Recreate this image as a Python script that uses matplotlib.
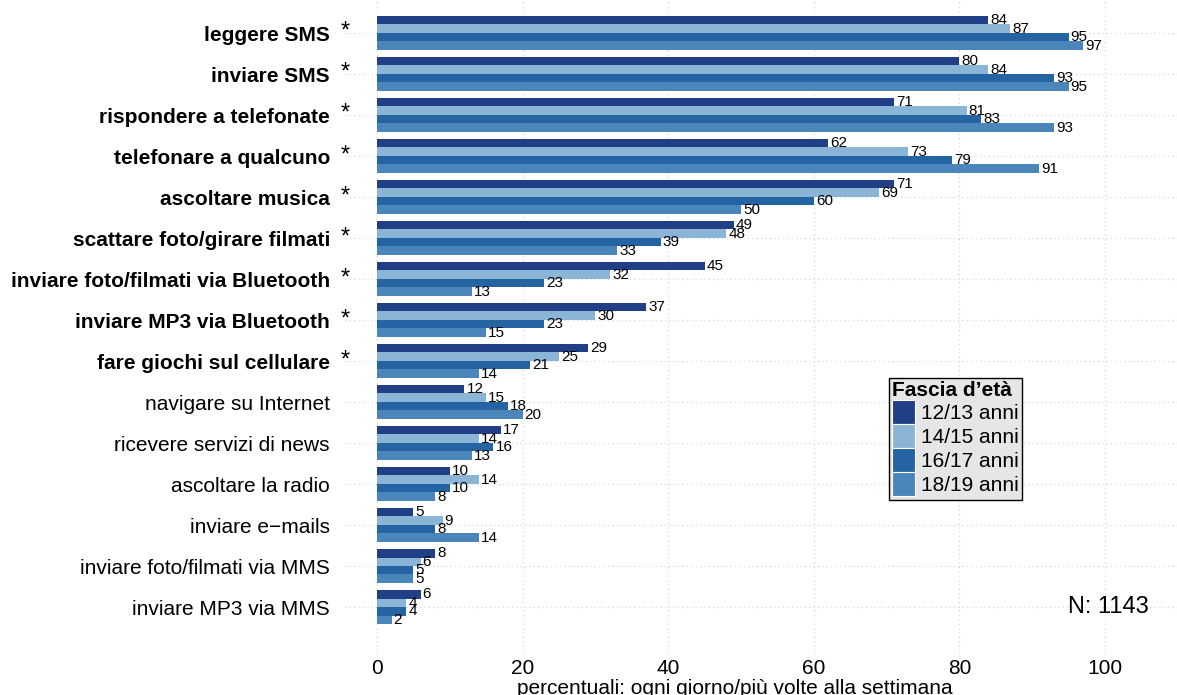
import matplotlib
matplotlib.use("Agg")
import matplotlib.pyplot as plt
import numpy as np
from matplotlib.patches import Patch
from matplotlib.transforms import blended_transform_factory, offset_copy

categories = [
    "leggere SMS", "inviare SMS", "rispondere a telefonate", "telefonare a qualcuno",
    "ascoltare musica", "scattare foto/girare filmati", "inviare foto/filmati via Bluetooth",
    "inviare MP3 via Bluetooth", "fare giochi sul cellulare", "navigare su Internet",
    "ricevere servizi di news", "ascoltare la radio", "inviare e\u2212mails",
    "inviare foto/filmati via MMS", "inviare MP3 via MMS",
]
significant = [True] * 9 + [False] * 6
series_names = ["12/13 anni", "14/15 anni", "16/17 anni", "18/19 anni"]
age_12_13 = [84, 80, 71, 62, 71, 49, 45, 37, 29, 12, 17, 10, 5, 8, 6]
age_14_15 = [87, 84, 81, 73, 69, 48, 32, 30, 25, 15, 14, 14, 9, 6, 4]
age_16_17 = [95, 93, 83, 79, 60, 39, 23, 23, 21, 18, 16, 10, 8, 5, 4]
age_18_19 = [97, 95, 93, 91, 50, 33, 13, 15, 14, 20, 13, 8, 14, 5, 2]
series = [age_12_13, age_14_15, age_16_17, age_18_19]
colors = ["#213f87", "#8bb5d6", "#2464a2", "#4a86ba"]
x_ticks = [0, 20, 40, 60, 80, 100]

plt.rcParams['font.family'] = ['Liberation Sans', 'DejaVu Sans']

fig = plt.figure(figsize=(11.77, 6.95), dpi=100)
ax = fig.add_axes([345 / 1177, 1 - 655 / 695, (1177 - 345) / 1177, 655 / 695])

n = len(categories)
y = np.arange(n)
bh = 0.207
for i, (vals, col) in enumerate(zip(series, colors)):
    ypos = y - 1.5 * bh + i * bh
    ax.barh(ypos, vals, height=bh, color=col, edgecolor='none', zorder=2)
    tr = offset_copy(ax.transData, fig=fig, x=2, y=0, units='dots')
    for yy, v in zip(ypos, vals):
        ax.text(v, yy, str(v), transform=tr, ha='left', va='center', fontsize=11, zorder=3)

ax.set_xlim(-4.4, 109.9)
ax.set_ylim(n - 1 + 1.17, -0.8)
for s in ax.spines.values():
    s.set_visible(False)
ax.set_xticks(x_ticks)
ax.set_xticklabels([str(t) for t in x_ticks], fontsize=15)
ax.tick_params(axis='x', length=0, pad=3)
ax.set_yticks(y)
ax.set_yticklabels([])
ax.tick_params(axis='y', length=0)
ax.grid(True, which='major', color='#d8d8d8', linestyle=(0, (1, 2.5)), linewidth=0.9, zorder=0)
ax.set_axisbelow(True)

# category labels
bt = blended_transform_factory(fig.transFigure, ax.transData)
for yy, cat, sig in zip(y, categories, significant):
    ax.text(330 / 1177, yy + 0.07, cat, transform=bt, ha='right', va='center', fontsize=15,
            fontweight='bold' if sig else 'normal')
    if sig:
        ax.text(345 / 1177, yy - 0.02, "*", transform=bt, ha='center', va='center',
                fontsize=17)

fig.text(735 / 1177, 1 - 688 / 695, "percentuali: ogni giorno/più volte alla settimana",
         ha='center', va='center', fontsize=15)

ax.text(106.0, 14, "N: 1143", ha='right', va='center', fontsize=17)

handles = [Patch(facecolor=c, edgecolor='white', linewidth=0.8) for c in colors]
leg = ax.legend(handles, series_names, loc='upper left',
                bbox_to_anchor=(889 / 1177, 1 - 378 / 695), bbox_transform=fig.transFigure,
                fontsize=15, title="Fascia d\u2019età", title_fontproperties={'weight': 'bold', 'size': 15},
                frameon=True, fancybox=False, framealpha=1, handlelength=1.1, handleheight=1.4,
                handletextpad=0.3, labelspacing=0.0, borderpad=0.15, borderaxespad=0)
leg.get_frame().set_facecolor('#e6e6e6')
leg.get_frame().set_edgecolor('black')
leg.get_frame().set_linewidth(1.0)
leg._legend_box.align = "left"

fig.savefig("out.png", dpi=100)
